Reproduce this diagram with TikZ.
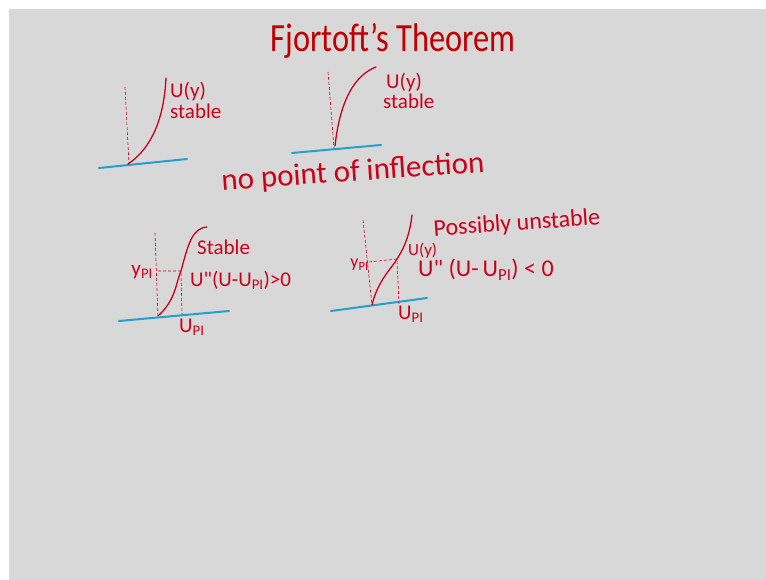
\documentclass[tikz,border=0pt]{standalone}
\usepackage{fontspec}
\setmainfont{Carlito}
\usepackage{tikz}
\usetikzlibrary{positioning}
\definecolor{boardgray}{RGB}{216,216,216}
\definecolor{inkred}{RGB}{205,0,25}
\definecolor{titlered}{RGB}{192,0,0}
\definecolor{axisblue}{RGB}{35,160,205}

\begin{document}
\begin{tikzpicture}[x=1pt, y=-1pt,
    profile/.style={draw=inkred, line width=1.3pt, line cap=round},
    guide/.style={draw=inkred, dash pattern=on 3pt off 2pt, line width=0.6pt},
    wall/.style={draw=axisblue, line width=2pt, line cap=round},
    note/.style={text=inkred, font=\fontsize{21}{23}\selectfont, inner sep=0pt, anchor=west}
]
    \useasboundingbox (0,0) rectangle (766,580);
    \fill[boardgray] (9,9) rectangle (766,580);
    \node[text=titlered, font=\fontsize{40}{44}\selectfont, inner sep=0pt, xscale=0.81] (title) at (393,41) {Fjortoft’s Theorem};

    % no inflection, curving up
    \draw[wall] (99,168) -- (187,159);
    \draw[guide] (125,87) -- (129,164);
    \draw[profile] (128,164) .. controls (152,148) and (164,118) .. (166,78);
    \node[note] (u1) at (170,92) {U(y)};
    \node[note] (s1) at (170,111) {stable};

    % no inflection, curving over
    \draw[wall] (292,153) -- (381,145);
    \draw[guide] (328,72) -- (334,148);
    \draw[profile] (335,146) .. controls (340,100) and (355,75) .. (376,67);
    \node[note] (u2) at (386,83) {U(y)};
    \node[note] (s2) at (383,101) {stable};

    \node[note, anchor=center, font=\fontsize{31}{33}\selectfont, rotate=4] (nopi) at (353,173) {no point of inflection};

    % inflection, stable
    \draw[wall] (119,321) -- (229,311);
    \draw[guide] (155,233) -- (158,317);
    \draw[profile] (158,316) .. controls (176,300) and (176,282) .. (181,271)
        .. controls (188,245) and (192,228) .. (207,227);
    \draw[guide] (158,271) -- (181,271) -- (182,314);
    \node[note, anchor=east] (yp3) at (153,272) {y\textsubscript{PI}};
    \node[note] (s3) at (197,247) {Stable};
    \node[note] (c3) at (190,280) {U\textquotedbl(U-U\textsubscript{PI})>0};
    \node[note] (up3) at (179,327) {U\textsubscript{PI}};

    % inflection, possibly unstable
    \draw[wall] (331,311) -- (427,298);
    \draw[guide] (363,220) -- (372,305);
    \draw[profile] (372,305) .. controls (378,280) and (392,268) .. (397,259)
        .. controls (406,245) and (410,232) .. (412,215);
    \draw[guide] (369,262) -- (397,259) -- (399,304);
    \node[note, anchor=east, font=\fontsize{18}{20}\selectfont] (yp4) at (369,265) {y\textsubscript{PI}};
    \node[note, font=\fontsize{17}{19}\selectfont] (u4) at (408,251) {U(y)};
    \node[note, anchor=center, font=\fontsize{24}{26}\selectfont, rotate=4] (pu) at (517,224) {Possibly unstable};
    \node[note, font=\fontsize{24}{26}\selectfont] (c4) at (418,270) {U\textquotedbl\ (U-\,U\textsubscript{PI})\ <\ 0};
    \node[note] (up4) at (398,314) {U\textsubscript{PI}};
\end{tikzpicture}
\end{document}
